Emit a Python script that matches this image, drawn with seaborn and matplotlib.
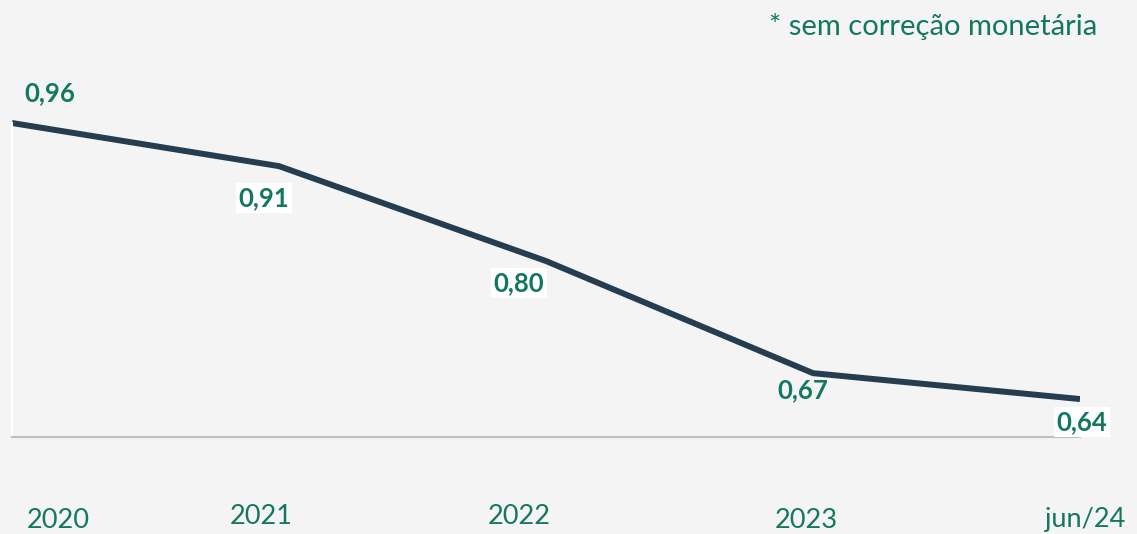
import numpy as np
import pandas as pd
import seaborn as sns
import matplotlib.pyplot as plt
from matplotlib.transforms import blended_transform_factory

# Data
periods = ["2020", "2021", "2022", "2023", "jun/24"]
values = [0.96, 0.91, 0.80, 0.67, 0.64]
value_labels = ["0,96", "0,91", "0,80", "0,67", "0,64"]
note = "* sem correção monetária"

# Styling
GREEN = "#14775f"
LINE = "#243d50"
BG = "#f4f4f4"

sns.set_theme(style="white")
plt.rcParams["font.family"] = ["Lato", "DejaVu Sans"]

W, H = 1137, 534
fig = plt.figure(figsize=(W / 100, H / 100), dpi=100)
fig.patch.set_facecolor(BG)

left_px, right_px, bottom_px = 12, 1080, 437
ax = fig.add_axes([left_px / W, (H - bottom_px) / H,
                   (right_px - left_px) / W, bottom_px / H])
ax.set_facecolor("none")

df = pd.DataFrame({"pos": np.arange(len(periods)), "valor": values})
sns.lineplot(data=df, x="pos", y="valor", ax=ax, color=LINE,
             linewidth=4.3, solid_joinstyle="miter", solid_capstyle="butt")

ax.set_xlim(0, len(periods) - 1)
ax.set_ylim(0.596, 1.1026)
ax.set_xticks([])
ax.set_yticks([])
ax.set_xlabel("")
ax.set_ylabel("")
for side in ["top", "right"]:
    ax.spines[side].set_visible(False)
ax.spines["bottom"].set_color("#bfbfbf")
ax.spines["bottom"].set_linewidth(1.5)
ax.spines["left"].set_color("white")
ax.spines["left"].set_linewidth(1.5)
ax.spines["left"].set_bounds(0.596, 0.96)

# Value labels (pixel offsets from each point)
label_offsets = [(38, 30), (-15, -32), (-27, -22), (-10, -17), (2, -23)]
label_boxes = [False, True, True, False, True]
for i, (v, txt) in enumerate(zip(values, value_labels)):
    dx, dy = label_offsets[i]
    bbox = dict(boxstyle="square,pad=0.12", fc="white", ec="none") if label_boxes[i] else None
    ax.annotate(txt, xy=(i, v), xytext=(dx, dy), textcoords="offset pixels",
                ha="center", va="center", fontsize=18.5, fontweight="bold",
                color=GREEN, bbox=bbox, annotation_clip=False)

# Period labels below the baseline
tick_offsets = [(46, -83), (-18, -80), (-27, -80), (-7, -84), (5, -83)]
trans = blended_transform_factory(ax.transData, ax.transAxes)
for i, p in enumerate(periods):
    dx, dy = tick_offsets[i]
    ax.annotate(p, xy=(i, 0), xycoords=trans, xytext=(dx, dy),
                textcoords="offset pixels", ha="center", va="center",
                fontsize=19.5, color=GREEN, annotation_clip=False)

fig.text(1097 / W, 1 - 26 / H, note, ha="right", va="center",
         fontsize=21, color=GREEN)

fig.savefig("out.png", dpi=100, facecolor=fig.get_facecolor())
